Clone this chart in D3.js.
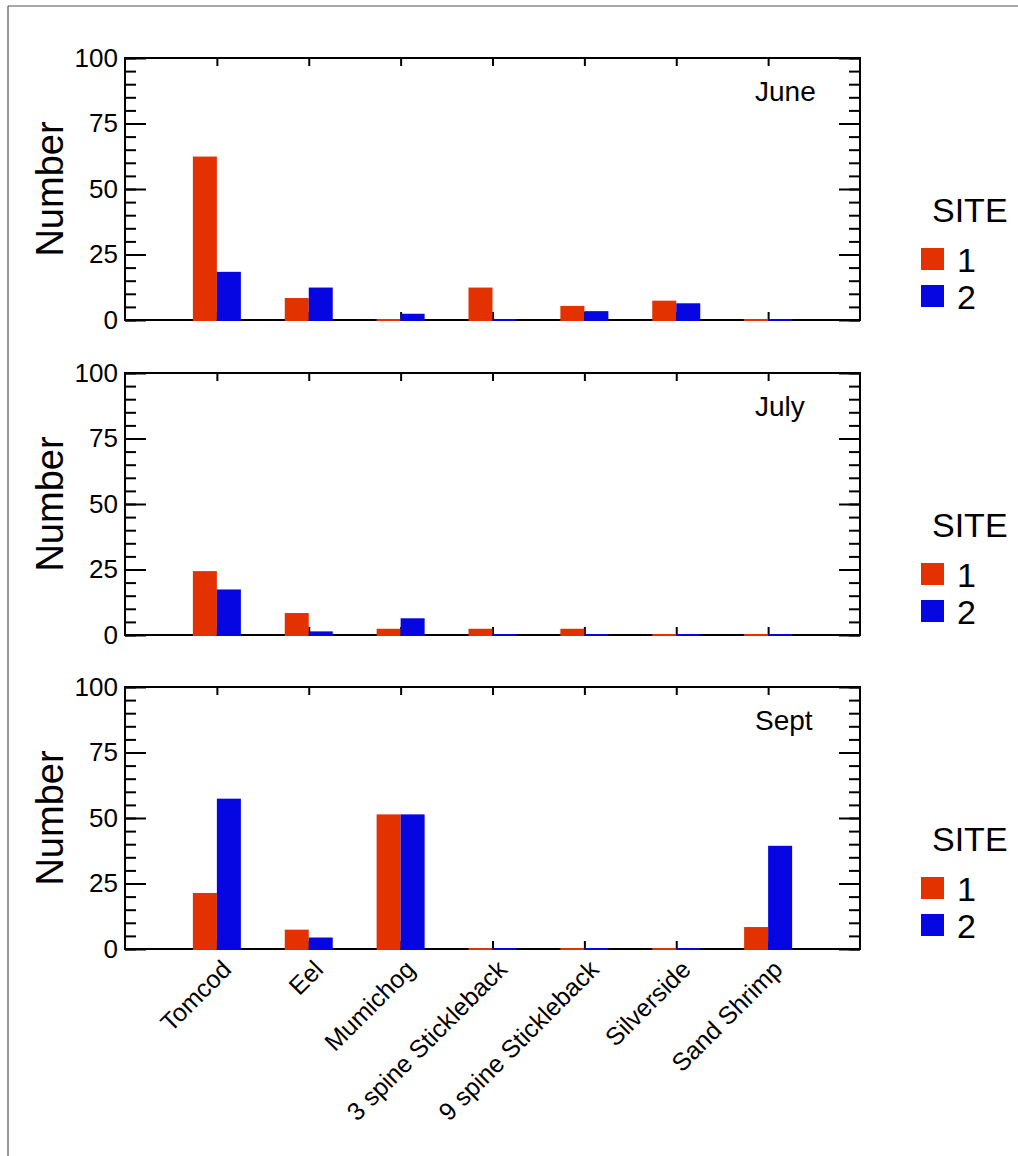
<!DOCTYPE html>
<html lang="en">
<head>
    <meta charset="UTF-8">
    <title>Fish counts by site and month</title>
    <script src="https://d3js.org/d3.v7.min.js"></script>
    <style>
        body { margin: 0; background: #fff; }
        text { font-family: "Liberation Sans", Arial, Helvetica, sans-serif; fill: #000; }
    </style>
</head>
<body>
    <svg width="1018" height="1156"></svg>

    <script>
        // Categories and values
        const species = ["Tomcod", "Eel", "Mumichog", "3 spine Stickleback", "9 spine Stickleback", "Silverside", "Sand Shrimp"];
        const months = ["June", "July", "Sept"];
        const sites = ["1", "2"];
        const yTicks = [0, 25, 50, 75, 100];

        const june1 = [62, 8, 0, 12, 5, 7, 0];
        const june2 = [18, 12, 2, 0, 3, 6, 0];
        const july1 = [24, 8, 2, 2, 2, 0, 0];
        const july2 = [17, 1, 6, 0, 0, 0, 0];
        const sept1 = [21, 7, 51, 0, 0, 0, 8];
        const sept2 = [57, 4, 51, 0, 0, 0, 39];

        const panels = [
            {month: months[0], s1: june1, s2: june2},
            {month: months[1], s1: july1, s2: july2},
            {month: months[2], s1: sept1, s2: sept2}
        ];

        const colors = {"1": "#e33100", "2": "#0606e2"};

        const width = 1018;
        const height = 1156;
        const left = 125, right = 860;
        const panelTops = [58, 373, 687];
        const panelH = 262;
        const barW = 24;

        const svg = d3.select("svg");

        // outer frame (top and left edges only show)
        svg.append("line").attr("x1", 8).attr("x2", width).attr("y1", 6).attr("y2", 6)
            .attr("stroke", "#8c8c8c").attr("stroke-width", 1.5);
        svg.append("line").attr("x1", 8).attr("x2", 8).attr("y1", 6).attr("y2", height)
            .attr("stroke", "#333").attr("stroke-width", 1);

        const x = d3.scalePoint()
            .domain(species)
            .range([left, right])
            .padding(1);

        panels.forEach((p, i) => {
            const top = panelTops[i];
            const y = d3.scaleLinear().domain([0, 100]).range([top + panelH, top]);
            const g = svg.append("g");

            // minor ticks, left and right
            g.append("g")
                .attr("transform", `translate(${left},0)`)
                .call(d3.axisLeft(y).tickValues(d3.range(0, 101, 5)).tickSize(-11).tickFormat(""))
                .call(a => a.select(".domain").remove());
            g.append("g")
                .attr("transform", `translate(${right},0)`)
                .call(d3.axisRight(y).tickValues(d3.range(0, 101, 5)).tickSize(-11).tickFormat(""))
                .call(a => a.select(".domain").remove());

            // major ticks + labels
            g.append("g")
                .attr("transform", `translate(${left},0)`)
                .call(d3.axisLeft(y).tickValues(yTicks).tickSize(-21).tickPadding(7))
                .call(a => a.select(".domain").remove())
                .call(a => a.selectAll("text").attr("font-size", 26).style("font-family", null));
            g.append("g")
                .attr("transform", `translate(${right},0)`)
                .call(d3.axisRight(y).tickValues(yTicks).tickSize(-21).tickFormat(""))
                .call(a => a.select(".domain").remove());

            // category ticks on top and bottom
            g.append("g")
                .attr("transform", `translate(0,${top})`)
                .call(d3.axisTop(x).tickSize(-8).tickFormat(""))
                .call(a => a.select(".domain").remove());
            g.append("g")
                .attr("transform", `translate(0,${top + panelH})`)
                .call(d3.axisBottom(x).tickSize(-8).tickFormat(""))
                .call(a => a.select(".domain").remove());

            g.selectAll(".tick line").attr("stroke", "#000").attr("stroke-width", 2);

            // frame
            g.append("rect")
                .attr("x", left).attr("y", top)
                .attr("width", right - left).attr("height", panelH)
                .attr("fill", "none").attr("stroke", "#000").attr("stroke-width", 2);

            // bars
            const bars = species.map((s, j) => [
                {sp: s, site: "1", v: p.s1[j]},
                {sp: s, site: "2", v: p.s2[j]}
            ]).flat();

            g.selectAll("rect.bar")
                .data(bars)
                .enter()
                .append("rect")
                .attr("class", "bar")
                .attr("x", d => d.site === "1" ? x(d.sp) - barW : x(d.sp))
                .attr("width", barW)
                .attr("y", d => y(d.v) - 1)
                .attr("height", d => y(0) - y(d.v) + 2)
                .attr("fill", d => colors[d.site]);

            // month label
            g.append("text")
                .attr("x", 755)
                .attr("y", top + 43)
                .attr("font-size", 28)
                .text(p.month);

            // y label
            g.append("text")
                .attr("transform", `translate(63,${top + panelH / 2}) rotate(-90)`)
                .attr("text-anchor", "middle")
                .attr("font-size", 38)
                .text("Number");

            // legend
            const lg = g.append("g").attr("transform", `translate(0,${top})`);
            lg.append("text")
                .attr("x", 932).attr("y", 164)
                .attr("font-size", 34)
                .text("SITE");
            sites.forEach((s, k) => {
                lg.append("rect")
                    .attr("x", 921).attr("y", 190 + k * 37)
                    .attr("width", 23).attr("height", 22)
                    .attr("fill", colors[s]);
                lg.append("text")
                    .attr("x", 957).attr("y", 214 + k * 37)
                    .attr("font-size", 34)
                    .text(s);
            });

            // species labels only under the last panel
            if (i === panels.length - 1) {
                g.selectAll("text.xlab")
                    .data(species)
                    .enter()
                    .append("text")
                    .attr("class", "xlab")
                    .attr("text-anchor", "end")
                    .attr("font-size", 25)
                    .attr("transform", d => `translate(${x(d) + 16},${top + panelH + 22}) rotate(-45)`)
                    .text(d => d);
            }
        });
    </script>
</body>
</html>
